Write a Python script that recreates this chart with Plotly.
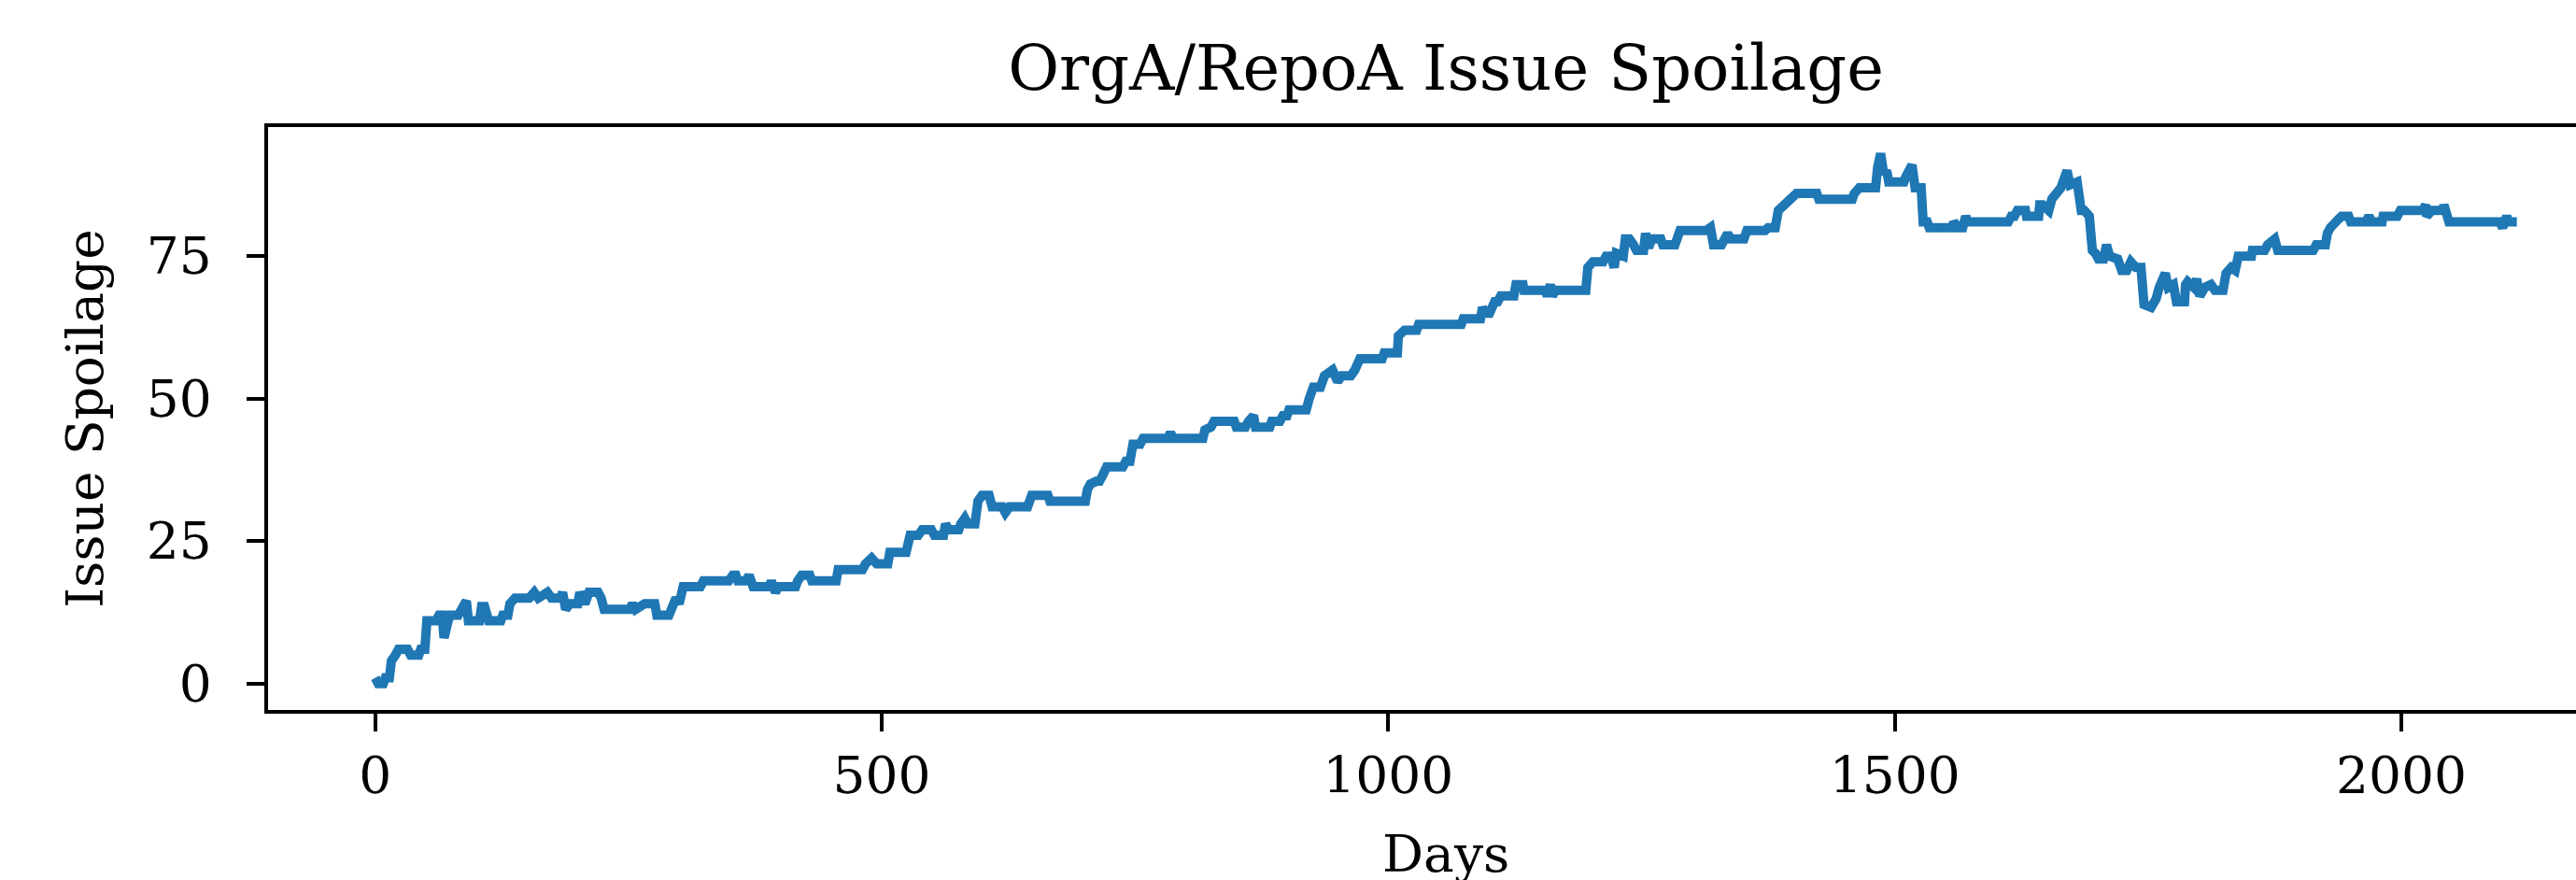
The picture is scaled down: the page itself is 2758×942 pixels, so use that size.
import plotly.graph_objects as go

# issue spoilage, one pair of lists per stretch of days
days_a = [0, 3, 8, 10, 14, 16, 20, 23, 32, 35, 43, 45, 49, 51, 60, 63, 66, 68, 72, 74, 82, 86, 90, 92,
          103, 105, 108, 112, 124, 126, 131, 133, 138, 152, 157, 161, 170, 174, 183, 185, 188, 192,
          200, 202, 207, 211, 220, 223, 226, 251, 254, 257, 266, 276, 278, 290, 293, 297, 300, 304,
          321, 324, 349]
vals_a = [1, 0, 0, 1, 1, 4, 5, 6, 6, 5, 5, 6, 6, 11, 11, 12, 12, 8, 11, 12, 12, 13, 14.5, 11,
          11, 13.5, 13.5, 11, 11, 12, 12, 14, 15, 15, 16, 15, 16, 15, 15, 16, 13, 14,
          14, 16, 14, 16, 16, 15, 13, 13, 14, 13, 14, 14, 12, 12, 13, 15, 14, 17,
          17, 18, 18]

days_b = [353, 356, 358, 366, 369, 373, 389, 391, 395, 398, 415, 417, 421, 429, 431, 455, 457, 481,
          484, 490, 495, 506, 508, 524, 528, 536, 540, 549, 552, 561, 563, 566, 576, 578, 582, 585,
          592, 595, 599, 606, 609, 619, 622, 626, 644, 648, 664, 666, 701, 703, 706, 712, 715, 718]
vals_b = [19, 19, 18, 18, 19, 17, 17, 18, 16, 17, 17, 18, 19, 19, 18, 18, 20, 20,
          21, 22, 21, 21, 23, 23, 26, 26, 27, 27, 26, 26, 28, 27, 27, 28, 29, 28,
          28, 32, 33, 33, 31, 31, 30, 31, 31, 33, 33, 32, 32, 34, 35, 35.5, 35.5, 36.5]

days_c = [722, 738, 741, 745, 746, 748, 755, 758, 782, 785, 788, 817, 819, 825, 828, 848, 850, 859,
          862, 867, 869, 883, 885, 893, 896, 900, 902, 919, 922, 926, 933, 937, 945, 950, 954, 963,
          967, 972, 994, 996, 1009, 1010, 1016, 1028, 1030, 1072]
vals_c = [38, 38, 39, 39, 41, 42, 42, 43, 43, 44, 43, 43, 44.5, 45, 46, 46, 45, 45,
          46, 47, 45, 45, 46, 46, 47, 47, 48, 48, 50, 52, 52, 54, 55, 53, 54, 54,
          55, 57, 57, 58, 58, 61, 62, 62, 63, 63]

days_d = [1074, 1091, 1093, 1096, 1100, 1102, 1105, 1108, 1111, 1124, 1126, 1133, 1134, 1155, 1157,
          1160, 1162, 1165, 1195, 1197, 1202, 1212, 1215, 1220, 1223, 1225, 1232, 1234, 1238, 1242,
          1245, 1252, 1254, 1257, 1260, 1269, 1271, 1283, 1288, 1314, 1318, 1321, 1329, 1335, 1338,
          1351, 1354, 1372, 1375, 1382, 1385, 1391, 1395, 1398, 1403, 1423, 1425, 1458]
vals_d = [64, 64, 66, 65, 65, 66, 67, 67, 68, 68, 70, 70, 69, 69, 68,
          70, 68, 69, 69, 73, 74, 74, 75, 75, 73, 75.5, 75, 78, 78, 77,
          76, 76, 79, 76.5, 78, 78, 77, 77, 79.5, 79.5, 80, 77, 77, 79, 78,
          78, 79.5, 79.5, 80, 80, 83, 84, 84.5, 85, 86, 86, 85, 85]

days_e = [1460, 1465, 1481, 1483, 1486, 1489, 1492, 1494, 1509, 1511, 1517, 1520, 1526, 1528, 1532,
          1534, 1557, 1558, 1563, 1567, 1570, 1572, 1612, 1615, 1618, 1621, 1629, 1630, 1642, 1643,
          1646, 1652, 1655, 1664, 1670, 1673, 1680, 1684, 1687, 1692, 1695, 1698, 1701, 1706, 1709,
          1712, 1716, 1720, 1724, 1729, 1733, 1738, 1743, 1746, 1753, 1758, 1761, 1767, 1770, 1775,
          1778, 1786, 1787]
vals_e = [86, 87, 87, 90.5, 93, 89.5, 90, 88, 88, 89, 91, 87, 87, 81, 81,
          80, 80, 81, 80, 80, 82, 81, 81, 82, 82, 83, 83, 82, 82, 84,
          84, 83, 85, 87, 90, 87.5, 88, 83, 83, 82, 76, 75.5, 74.5, 74.5, 77,
          75, 74.5, 74.5, 72.5, 72.5, 74, 73, 73, 66.5, 66, 67.5, 69.5, 72, 69.5, 70,
          67, 67, 70]

days_f = [1789, 1795, 1798, 1801, 1806, 1812, 1816, 1824, 1827, 1832, 1836, 1839, 1852, 1853, 1865,
          1868, 1875, 1878, 1913, 1916, 1925, 1927, 1930, 1938, 1941, 1948, 1950, 1965, 1968, 1971,
          1981, 1982, 1996, 1999, 2021, 2024, 2025, 2030, 2041, 2042, 2047, 2097, 2100, 2104, 2106,
          2114]
vals_f = [70.5, 69.5, 71, 68, 69.5, 70, 69, 69, 72, 73, 72.5, 75, 75, 76, 76,
          77, 78, 76, 76, 77, 77, 79, 80, 81.5, 82, 82, 81, 81, 82, 81,
          81, 82, 82, 83, 83, 84, 82, 83, 83, 84, 81, 81, 80, 82, 81,
          81]

x_ticks = [0, 500, 1000, 1500, 2000]
y_ticks = [0, 25, 50, 75]

days = days_a + days_b + days_c + days_d + days_e + days_f
spoilage = vals_a + vals_b + vals_c + vals_d + vals_e + vals_f

font = "DejaVu Serif"

fig = go.Figure(go.Scatter(x=days, y=spoilage, mode="lines",
                           line=dict(color="#1f77b4", width=10), showlegend=False))

fig.update_layout(
    width=2758, height=942,
    margin=dict(l=287, r=0, t=136, b=182),
    paper_bgcolor="white", plot_bgcolor="white",
    font=dict(family=font, color="black", size=55),
    title=dict(text="OrgA/RepoA Issue Spoilage", font=dict(size=67, family=font),
               xref="container", x=1548 / 2758, xanchor="center",
               yref="container", y=1 - 49 / 942, yanchor="top"),
)
# axes run past the right edge, like the cropped original: no right spine
fig.update_xaxes(
    range=[-105.75, 2172.4], tickvals=x_ticks, ticks="outside", ticklen=19, tickwidth=4.4,
    tickcolor="black", showline=True, linewidth=4.4, linecolor="black", mirror=True,
    showgrid=False, zeroline=False, tickfont=dict(size=55),
)
fig.update_yaxes(
    range=[-4.65, 97.65], tickvals=y_ticks, ticks="outside", ticklen=19, tickwidth=4.4,
    tickcolor="black", showline=True, linewidth=4.4, linecolor="black", mirror=False,
    showgrid=False, zeroline=False, tickfont=dict(size=55), ticklabelstandoff=26,
    title=dict(text="Issue Spoilage", font=dict(size=55), standoff=30),
)

# x label sits low, centred under the (cropped) axes, as in the original
fig.add_annotation(text="Days", xref="paper", yref="paper",
                   x=(1548 - 287) / (2758 - 287), y=-(880 - 760) / 624,
                   xanchor="center", yanchor="top", showarrow=False,
                   font=dict(size=55, family=font))

# drop the page's default body margin so the figure sits flush at the window corner
fig.write_html("out.html", config={"displayModeBar": False},
               post_script="document.body.style.margin = '0px';")
